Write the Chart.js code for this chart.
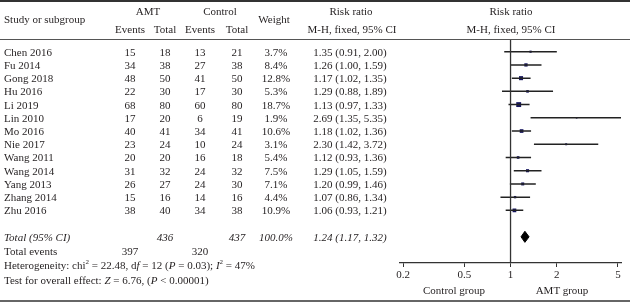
<!DOCTYPE html>
<html>
<head>
<meta charset="utf-8">
<script src="https://cdn.jsdelivr.net/npm/chart.js@4"></script>
<style>
  body { margin: 0; background: #fff; }
  #wrap { position: relative; width: 630px; height: 303px; font-family: "Liberation Serif", "DejaVu Serif", serif; font-size: 11px; color: #231f20; }
  #forest { position: absolute; left: 0; top: 0; }
  .t { position: absolute; white-space: nowrap; line-height: 1; }
  .hl { position: absolute; left: 0; width: 630px; }
  sup { font-size: 7px; line-height: 0; }
</style>
</head>
<body>
<div id="wrap">
  <div class="hl" style="top:0; height:2px; background:#333;"></div>
  <div class="hl" style="top:39px; height:1px; background:#555;"></div>
  <div class="hl" style="top:300px; height:2px; background:#666;"></div>
  <canvas id="forest" width="630" height="303"></canvas>
</div>
<script>
// datos del forest plot
const estudios = ["Chen 2016", "Fu 2014", "Gong 2018", "Hu 2016", "Li 2019", "Lin 2010", "Mo 2016",
                  "Nie 2017", "Wang 2011", "Wang 2014", "Yang 2013", "Zhang 2014", "Zhu 2016"];
const amtEventos = [15, 34, 48, 22, 68, 17, 40, 23, 20, 31, 26, 15, 38];
const amtTotal = [18, 38, 50, 30, 80, 20, 41, 24, 20, 32, 27, 16, 40];
const ctrlEventos = [13, 27, 41, 17, 60, 6, 34, 10, 16, 24, 24, 14, 34];
const ctrlTotal = [21, 38, 50, 30, 80, 19, 41, 24, 18, 32, 30, 16, 38];
const pesos = [3.7, 8.4, 12.8, 5.3, 18.7, 1.9, 10.6, 3.1, 5.4, 7.5, 7.1, 4.4, 10.9];
const rr = [1.35, 1.26, 1.17, 1.29, 1.13, 2.69, 1.18, 2.30, 1.12, 1.29, 1.20, 1.07, 1.06];
const rrBajo = [0.91, 1.00, 1.02, 0.88, 0.97, 1.35, 1.02, 1.42, 0.93, 1.05, 0.99, 0.86, 0.93];
const rrAlto = [2.00, 1.59, 1.35, 1.89, 1.33, 5.35, 1.36, 3.72, 1.36, 1.59, 1.46, 1.34, 1.21];
const totalRR = [1.24, 1.17, 1.32]; // estimado, bajo, alto
const totalN = [436, 437];
const totalEventos = [397, 320];
const ticksX = [0.2, 0.5, 1, 2, 5];

const filaTotal = 14;
const yMin = -0.885, yMax = 15.98;

// ---- texto de la tabla ----
const wrap = document.getElementById("wrap");
function poner(html, x, y, align, extra){
    const d = document.createElement("div");
    d.className = "t";
    d.innerHTML = html;
    d.style.left = x + "px";
    d.style.top = y + "px";
    if(align == "c") d.style.transform = "translate(-50%,-50%)";
    else if(align == "r") d.style.transform = "translate(-100%,-50%)";
    else d.style.transform = "translate(0,-50%)";
    if(extra) d.style.cssText += extra;
    wrap.appendChild(d);
}

poner("Study or subgroup", 4, 19, "l");
poner("AMT", 148, 11, "c");
poner("Control", 220, 11, "c");
poner("Events", 130, 29, "c");
poner("Total", 165, 29, "c");
poner("Events", 200, 29, "c");
poner("Total", 237, 29, "c");
poner("Weight", 274, 19, "c");
poner("Risk ratio", 351, 11, "c");
poner("M-H, fixed, 95% CI", 352, 29, "c");
poner("Risk ratio", 511, 11, "c");
poner("M-H, fixed, 95% CI", 511, 29, "c");

const y0 = 51.7, paso = 13.22;
for(let i = 0; i < estudios.length; i++){
    const y = y0 + i * paso;
    poner(estudios[i], 4, y, "l");
    poner(amtEventos[i], 130, y, "c");
    poner(amtTotal[i], 165, y, "c");
    poner(ctrlEventos[i], 200, y, "c");
    poner(ctrlTotal[i], 237, y, "c");
    poner(pesos[i].toFixed(1) + "%", 276, y, "c");
    poner(rr[i].toFixed(2) + " (" + rrBajo[i].toFixed(2) + ", " + rrAlto[i].toFixed(2) + ")", 350, y, "c");
}
const yT = y0 + filaTotal * paso;
const it = "font-style:italic;";
poner("Total (95% CI)", 4, yT, "l", it);
poner(totalN[0], 165, yT, "c", it);
poner(totalN[1], 237, yT, "c", it);
poner("100.0%", 276, yT, "c", it);
poner(totalRR[0].toFixed(2) + " (" + totalRR[1].toFixed(2) + ", " + totalRR[2].toFixed(2) + ")", 350, yT, "c", it);
poner("Total events", 4, 251, "l");
poner(totalEventos[0], 130, 251, "c");
poner(totalEventos[1], 200, 251, "c");
poner("Heterogeneity: chi<sup>2</sup> = 22.48, d<i>f</i> = 12 (<i>P</i> = 0.03); <i>I</i><sup>2</sup> = 47%", 4, 265, "l");
poner("Test for overall effect: <i>Z</i> = 6.76, (<i>P</i> &lt; 0.00001)", 4, 280, "l");
poner("Control group", 454, 290, "c");
poner("AMT group", 562, 290, "c");

// ---- grafico ----
const lineasIC = [];
for(let i = 0; i < estudios.length; i++){
    lineasIC.push({x: rrBajo[i], y: i});
    lineasIC.push({x: rrAlto[i], y: i});
    lineasIC.push({x: null, y: null});
}
const puntos = rr.map((v, i) => ({x: v, y: i}));
const radios = pesos.map(w => 0.8 * Math.sqrt(w));
const diamante = [
    {x: totalRR[1], y: filaTotal},
    {x: totalRR[0], y: filaTotal - 0.42},
    {x: totalRR[2], y: filaTotal},
    {x: totalRR[0], y: filaTotal + 0.42},
    {x: totalRR[1], y: filaTotal}
];

const ctx = document.getElementById("forest").getContext("2d");
const chart = new Chart(ctx, {
    type: "scatter",
    data: {
        datasets: [
            {
                type: "line",
                data: [{x: 1, y: yMin}, {x: 1, y: yMax}],
                borderColor: "#333",
                borderWidth: 1.3,
                pointRadius: 0
            },
            {
                type: "line",
                data: lineasIC,
                borderColor: "#222",
                borderWidth: 1.5,
                pointRadius: 0,
                spanGaps: false
            },
            {
                data: puntos,
                pointStyle: "rect",
                pointRadius: radios,
                backgroundColor: "#15155e",
                borderWidth: 0
            },
            {
                type: "line",
                data: diamante,
                borderColor: "#000",
                backgroundColor: "#000",
                borderWidth: 1,
                pointRadius: 0,
                fill: "shape",
                tension: 0
            }
        ]
    },
    options: {
        responsive: false,
        animation: false,
        events: [],
        layout: { padding: { left: 400, right: 9, top: 40, bottom: 0 } },
        plugins: { legend: { display: false }, tooltip: { enabled: false } },
        scales: {
            x: {
                type: "logarithmic",
                min: 0.191,
                max: 5.23,
                afterBuildTicks: (scale) => { scale.ticks = ticksX.map(v => ({value: v})); },
                afterFit: (scale) => { scale.height = 40; },
                ticks: {
                    autoSkip: false,
                    maxRotation: 0,
                    padding: 2,
                    color: "#231f20",
                    font: { family: "Liberation Serif", size: 11 },
                    callback: (v) => String(v)
                },
                grid: { drawOnChartArea: false, tickLength: 4, color: "#333" },
                border: { color: "#333", width: 1.3 }
            },
            y: {
                type: "linear",
                reverse: true,
                min: yMin,
                max: yMax,
                display: false
            }
        }
    }
});
</script>
</body>
</html>
